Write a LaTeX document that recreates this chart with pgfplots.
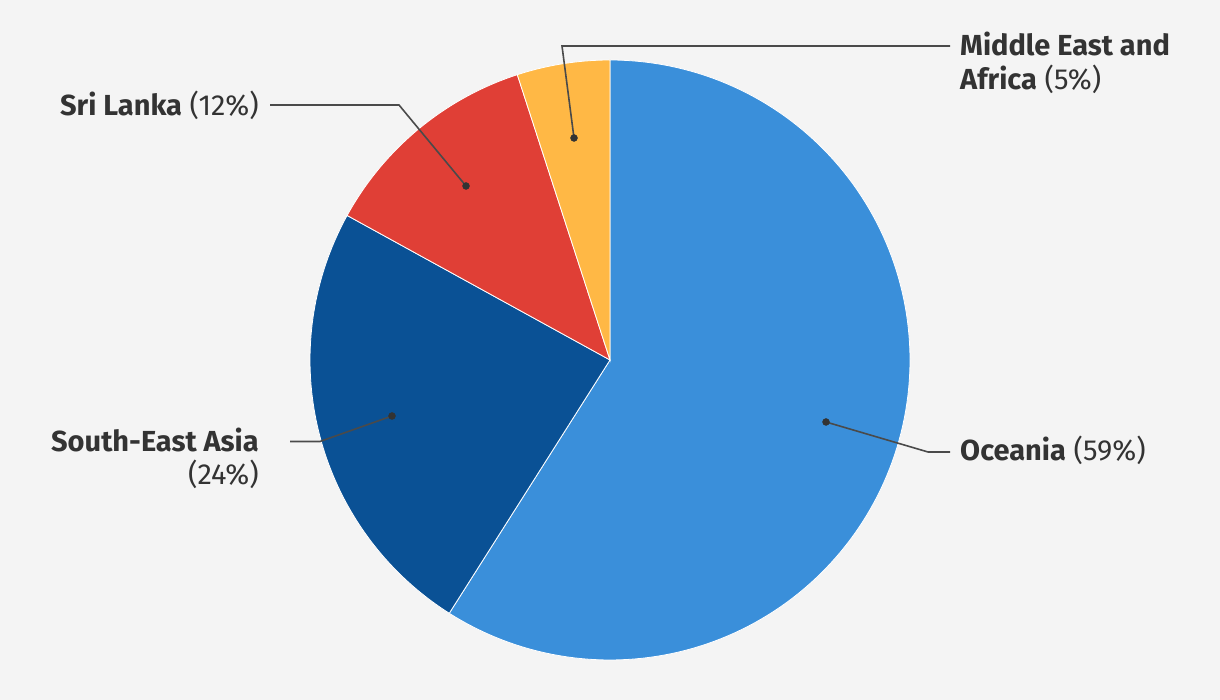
\documentclass[border=0pt]{standalone}
\usepackage{fontspec}
\setmainfont{Fira Sans}
\usepackage{pgfplots}
\pgfplotsset{compat=1.18}
\definecolor{bg}{HTML}{F4F4F4}
\definecolor{oce}{HTML}{3A8FDA}
\definecolor{sea}{HTML}{0A5195}
\definecolor{sri}{HTML}{E03F36}
\definecolor{mea}{HTML}{FFB845}
\definecolor{txt}{HTML}{333333}
\definecolor{lead}{HTML}{4A4A4A}
% shares (percent)
\def\pOce{59}
\def\pSea{24}
\def\pSri{12}
\def\pMea{5}
\tikzset{lbl/.style={font=\fontsize{29}{33}\selectfont, text=txt, inner sep=0pt}}
\begin{document}%
\begin{tikzpicture}
\pgfmathsetmacro\aA{90-3.6*\pOce}
\pgfmathsetmacro\aB{\aA-3.6*\pSea}
\pgfmathsetmacro\aC{\aB-3.6*\pSri}
\pgfmathsetmacro\aD{\aC-3.6*\pMea}
\begin{axis}[
  scale only axis, width=1220pt, height=700pt,
  xmin=0, xmax=1220, ymin=0, ymax=700,
  hide axis, ticks=none, clip=false,
]
\addplot[fill=bg, draw=none] coordinates {(0,0) (1220,0) (1220,700) (0,700)} -- cycle;
\coordinate (BL) at (axis cs:0,0);
\coordinate (TR) at (axis cs:1220,700);
\addplot[fill=oce, draw=white, line width=0.8pt, domain=\aA:90, samples=150] ({610+300*cos(x)},{340+300*sin(x)}) -- (axis cs:610,340) -- cycle;
\addplot[fill=sea, draw=white, line width=0.8pt, domain=\aB:\aA, samples=80] ({610+300*cos(x)},{340+300*sin(x)}) -- (axis cs:610,340) -- cycle;
\addplot[fill=sri, draw=white, line width=0.8pt, domain=\aC:\aB, samples=50] ({610+300*cos(x)},{340+300*sin(x)}) -- (axis cs:610,340) -- cycle;
\addplot[fill=mea, draw=white, line width=0.8pt, domain=\aD:\aC, samples=30] ({610+300*cos(x)},{340+300*sin(x)}) -- (axis cs:610,340) -- cycle;
% leader lines
\addplot[lead, line width=1.6pt] coordinates {(826,278) (928,248) (950,248)};
\addplot[lead, line width=1.6pt] coordinates {(392,284) (320,258.5) (290,258.5)};
\addplot[lead, line width=1.6pt] coordinates {(466,514) (399,595) (270,595)};
\addplot[lead, line width=1.6pt] coordinates {(574,562) (562,654) (950,654)};
\addplot[only marks, mark=*, mark size=3.5pt, txt] coordinates {(826,278) (392,284) (466,514) (574,562)};
% labels
\node[lbl, anchor=base west] at (axis cs:960,239) {\textbf{Oceania} (59\%)};
\node[lbl, anchor=base east] at (axis cs:259,248.3) {\textbf{South-East Asia}};
\node[lbl, anchor=base east] at (axis cs:259,215) {(24\%)};
\node[lbl, anchor=base east] at (axis cs:259,584) {\textbf{Sri Lanka} (12\%)};
\node[lbl, anchor=base west] at (axis cs:960,644) {\textbf{Middle East and}};
\node[lbl, anchor=base west] at (axis cs:960,610) {\textbf{Africa} (5\%)};
\end{axis}
\pgfresetboundingbox
\path (BL) rectangle (TR);
\end{tikzpicture}%
\end{document}
